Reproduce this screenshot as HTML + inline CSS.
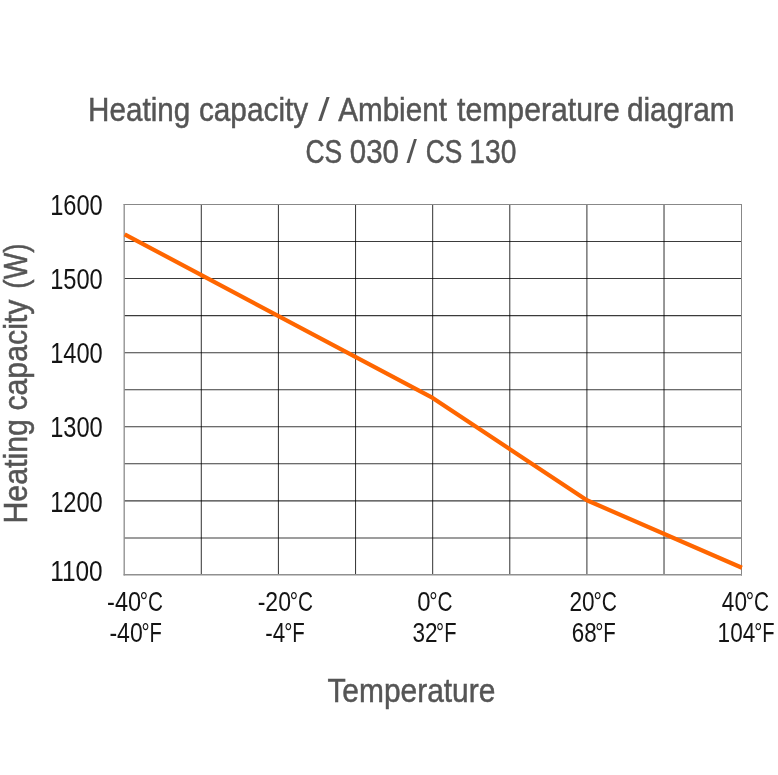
<!DOCTYPE html>
<html lang="en"><head><meta charset="utf-8"><title>Heating capacity / Ambient temperature diagram</title>
<style>html,body{margin:0;padding:0;background:#fff}svg{display:block}text{font-family:"Liberation Sans",sans-serif}</style></head><body>
<svg width="778" height="775" viewBox="0 0 778 775">
<rect width="778" height="775" fill="#fff"/>
<path d="M201.30 204.45V575.0M278.42 204.45V575.0M355.54 204.45V575.0M432.66 204.45V575.0M509.78 204.45V575.0M586.90 204.45V575.0M664.02 204.45V575.0" stroke="#000" stroke-opacity="0.77" stroke-width="1.05" fill="none"/>
<path d="M124.18 241.50H741.5M124.18 278.56H741.5M124.18 315.62H741.5M124.18 352.67H741.5M124.18 389.73H741.5M124.18 426.78H741.5M124.18 463.83H741.5M124.18 500.89H741.5M124.18 537.94H741.5" stroke="#000" stroke-opacity="0.77" stroke-width="1.05" fill="none"/>
<path d="M123.6 204.5H742" stroke="#888" stroke-width="1" fill="none"/>
<path d="M741.5 204V575.6" stroke="#888" stroke-width="1" fill="none"/>
<path d="M124.2 204V575.6" stroke="#8c8c8c" stroke-width="1.3" fill="none"/>
<path d="M123.6 574.85H742" stroke="#909090" stroke-width="1.5" fill="none"/>
<polyline points="124.7,234.35 432.66,397.9 586.90,500.3 741.9,567.7" fill="none" stroke="#ff6600" stroke-width="4.2" stroke-linejoin="round"/>
<text y="121.4" font-size="34" fill="#555555" stroke="#555555" stroke-width="0.5"><tspan id="t1" x="88.12" textLength="102.07" lengthAdjust="spacingAndGlyphs">Heating</tspan> <tspan id="t2" x="198.93" textLength="109.25" lengthAdjust="spacingAndGlyphs">capacity</tspan> <tspan id="t3" x="318.35" stroke="none" textLength="11.39" lengthAdjust="spacingAndGlyphs">/</tspan> <tspan id="t4" x="338.16" textLength="108.77" lengthAdjust="spacingAndGlyphs">Ambient</tspan> <tspan id="t5" x="457.01" textLength="162.91" lengthAdjust="spacingAndGlyphs">temperature</tspan> <tspan id="t6" x="626.89" textLength="107.67" lengthAdjust="spacingAndGlyphs">diagram</tspan></text>
<text y="163.3" font-size="34" fill="#555555" stroke="#555555" stroke-width="0.5"><tspan id="s1" x="305.41" textLength="36.78" lengthAdjust="spacingAndGlyphs">CS</tspan> <tspan id="s2" x="349.75" textLength="49.16" lengthAdjust="spacingAndGlyphs">030</tspan> <tspan id="s3" x="406.45" stroke="none" textLength="10.38" lengthAdjust="spacingAndGlyphs">/</tspan> <tspan id="s4" x="425.73" textLength="36.60" lengthAdjust="spacingAndGlyphs">CS</tspan> <tspan id="s5" x="469.35" textLength="47.13" lengthAdjust="spacingAndGlyphs">130</tspan></text>
<text y="702.4" font-size="34" fill="#555555" stroke="#555555" stroke-width="0.5"><tspan id="xt" x="327.40" textLength="167.95" lengthAdjust="spacingAndGlyphs">Temperature</tspan></text>
<text y="214.8" font-size="29" fill="#141414"><tspan id="y0" x="50.16" textLength="52.59" lengthAdjust="spacingAndGlyphs">1600</tspan></text>
<text y="288.7" font-size="29" fill="#141414"><tspan id="y1" x="50.16" textLength="52.59" lengthAdjust="spacingAndGlyphs">1500</tspan></text>
<text y="362.6" font-size="29" fill="#141414"><tspan id="y2" x="50.16" textLength="52.59" lengthAdjust="spacingAndGlyphs">1400</tspan></text>
<text y="437" font-size="29" fill="#141414"><tspan id="y3" x="50.16" textLength="52.59" lengthAdjust="spacingAndGlyphs">1300</tspan></text>
<text y="511.9" font-size="29" fill="#141414"><tspan id="y4" x="50.16" textLength="52.59" lengthAdjust="spacingAndGlyphs">1200</tspan></text>
<text y="580.6" font-size="29" fill="#141414"><tspan id="y5" x="50.17" textLength="52.53" lengthAdjust="spacingAndGlyphs">1100</tspan></text>
<text y="610.8" font-size="27.5" fill="#141414"><tspan id="c0a" x="107.12" textLength="34.08" lengthAdjust="spacingAndGlyphs">-40</tspan><tspan id="c0b" x="139.84" textLength="23.23" lengthAdjust="spacingAndGlyphs">°C</tspan></text>
<text y="641.7" font-size="27.5" fill="#141414"><tspan id="f0a" x="109.44" textLength="33.31" lengthAdjust="spacingAndGlyphs">-40</tspan><tspan id="f0b" x="141.55" textLength="20.40" lengthAdjust="spacingAndGlyphs">°F</tspan></text>
<text y="610.8" font-size="27.5" fill="#141414"><tspan id="c1a" x="257.68" textLength="33.32" lengthAdjust="spacingAndGlyphs">-20</tspan><tspan id="c1b" x="289.63" textLength="23.30" lengthAdjust="spacingAndGlyphs">°C</tspan></text>
<text y="641.7" font-size="27.5" fill="#141414"><tspan id="f1a" x="265.23" textLength="19.92" lengthAdjust="spacingAndGlyphs">-4</tspan><tspan id="f1b" x="284.18" textLength="20.65" lengthAdjust="spacingAndGlyphs">°F</tspan></text>
<text y="610.8" font-size="27.5" fill="#141414"><tspan id="c2a" x="417.30" textLength="13.28" lengthAdjust="spacingAndGlyphs">0</tspan><tspan id="c2b" x="429.18" textLength="23.34" lengthAdjust="spacingAndGlyphs">°C</tspan></text>
<text y="641.7" font-size="27.5" fill="#141414"><tspan id="f2a" x="412.42" textLength="25.09" lengthAdjust="spacingAndGlyphs">32</tspan><tspan id="f2b" x="436.11" textLength="20.37" lengthAdjust="spacingAndGlyphs">°F</tspan></text>
<text y="610.8" font-size="27.5" fill="#141414"><tspan id="c3a" x="569.49" textLength="25.15" lengthAdjust="spacingAndGlyphs">20</tspan><tspan id="c3b" x="593.44" textLength="23.53" lengthAdjust="spacingAndGlyphs">°C</tspan></text>
<text y="641.7" font-size="27.5" fill="#141414"><tspan id="f3a" x="571.77" textLength="24.88" lengthAdjust="spacingAndGlyphs">68</tspan><tspan id="f3b" x="595.18" textLength="20.65" lengthAdjust="spacingAndGlyphs">°F</tspan></text>
<text y="610.8" font-size="27.5" fill="#141414"><tspan id="c4a" x="721.86" textLength="25.16" lengthAdjust="spacingAndGlyphs">40</tspan><tspan id="c4b" x="745.63" textLength="23.30" lengthAdjust="spacingAndGlyphs">°C</tspan></text>
<text y="641.7" font-size="27.5" fill="#141414"><tspan id="f4a" x="717.59" textLength="37.66" lengthAdjust="spacingAndGlyphs">104</tspan><tspan id="f4b" x="754.21" textLength="20.36" lengthAdjust="spacingAndGlyphs">°F</tspan></text>
<text transform="translate(27.4,521.4) rotate(-90)" y="0" font-size="34" fill="#555555" stroke="#555555" stroke-width="0.5"><tspan id="r1" x="-2.21" textLength="104.45" lengthAdjust="spacingAndGlyphs">Heating</tspan> <tspan id="r2" x="110.79" textLength="111.04" lengthAdjust="spacingAndGlyphs">capacity</tspan> <tspan id="r3" x="232.75" textLength="45.23" lengthAdjust="spacingAndGlyphs">(W)</tspan></text>
</svg></body></html>
